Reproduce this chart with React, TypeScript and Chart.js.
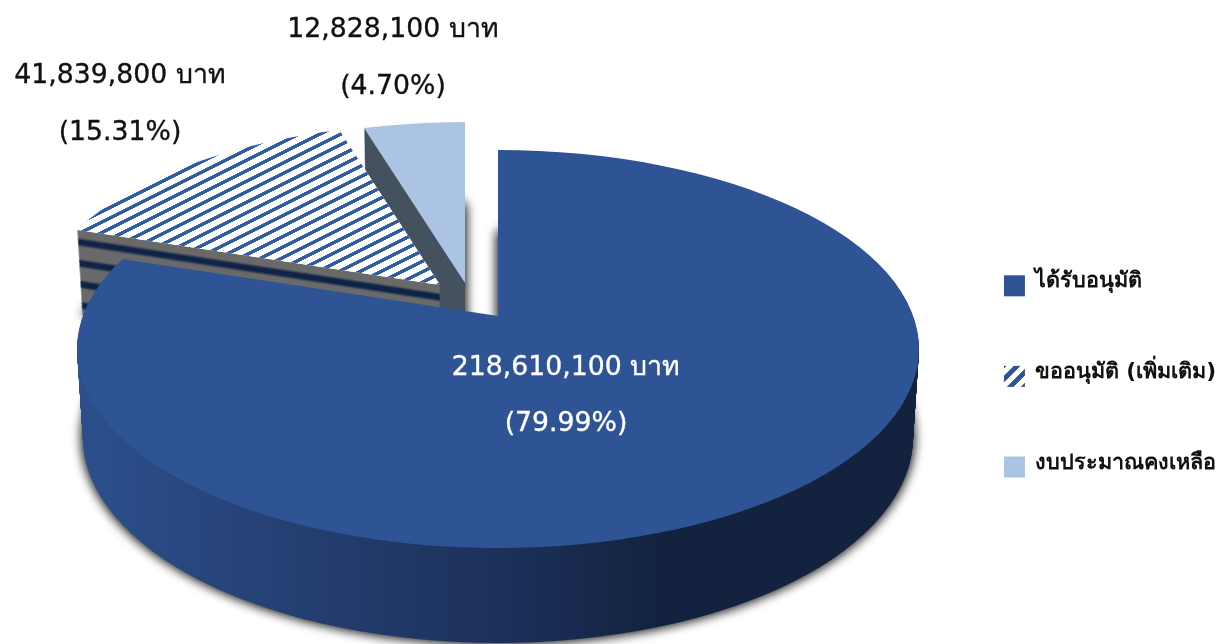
import React, { useEffect, useRef } from "react";
import { Chart, registerables } from "chart.js";

Chart.register(...registerables);

const categories = ["ได้รับอนุมัติ", "ขออนุมัติ (เพิ่มเติม)", "งบประมาณคงเหลือ"];
const budgetValues = [218610100, 41839800, 12828100];
const percentValues = [79.99, 15.31, 4.7];

const FONT = "'DejaVu Sans', 'Noto Sans', sans-serif";
const BLUE = "#2f5496";
const HATCH_BLUE = "#2f5c9f";
const LIGHT = "#abc4e4";
const LEGEND_SIZE = 21.6;

const discs = [
  { cx: 498, cy: 349, rx: 421, ry: 199 },
  { cx: 440, cy: 317, rx: 407, ry: 193 },
  { cx: 465, cy: 315, rx: 408, ry: 193 },
];
const labelPos = [
  [566, 368, 424, "#ffffff"],
  [120, 76, 133, "#111111"],
  [393, 30, 87, "#111111"],
] as const;

const K = -0.166;
const SQ = Math.sqrt(1 - K * K);
const DEPTH = 88;

type E = { cx: number; cy: number; rx: number; ry: number };
const layer = (d: E, t: number): E => ({
  cx: d.cx,
  cy: d.cy + DEPTH * t,
  rx: d.rx * (1 - 0.014 * t),
  ry: d.ry * (1 + 0.035 * t),
});
const rim = (e: E, th: number) => {
  const u = Math.sin(th);
  const v = -Math.cos(th);
  const den = 1 + K * v;
  return [e.cx + (e.rx * u * SQ) / den, e.cy + (e.ry * (v + K)) / den];
};
const wedge = (ctx: CanvasRenderingContext2D, e: E, a0: number, a1: number, grow: number) => {
  const ax = e.cx;
  const ay = e.cy + e.ry * K;
  ctx.beginPath();
  ctx.moveTo(ax, ay);
  const n = Math.max(8, Math.ceil((a1 - a0) / 0.02));
  for (let i = 0; i <= n; i++) {
    const p = rim(e, a0 + ((a1 - a0) * i) / n);
    ctx.lineTo(ax + (p[0] - ax) * grow, ay + (p[1] - ay) * grow);
  }
  ctx.closePath();
};

const mixHex = (a: number[], b: number[], m: number) =>
  `rgb(${a.map((v, i) => Math.round(v + (b[i] - v) * m)).join(",")})`;

const stripeColor = (px: number) => {
  const period = 22;
  let d = ((px - 13) % period + period) % period;
  if (d > period / 2) d = period - d;
  const m = d < 2 ? 1 : d < 5 ? (5 - d) / 3 : 0;
  return mixHex([106, 106, 106], [15, 36, 71], m);
};

const TILE_SCALE = 4;
const makeTile = (w: number, h: number, thick: number, color: string) => {
  const c = document.createElement("canvas");
  c.width = w * TILE_SCALE;
  c.height = h * TILE_SCALE;
  const x = c.getContext("2d")!;
  x.scale(TILE_SCALE, TILE_SCALE);
  x.fillStyle = "#ffffff";
  x.fillRect(0, 0, w, h);
  x.strokeStyle = color;
  x.lineWidth = thick;
  for (const o of [-h, 0, h]) {
    x.beginPath();
    x.moveTo(-w, h + o + h);
    x.lineTo(w * 2, o - h);
    x.stroke();
  }
  return c;
};

export default function App() {
  const ref = useRef<HTMLCanvasElement | null>(null);
  useEffect(() => {
    const canvas = ref.current!;
    const ctx0 = canvas.getContext("2d")!;
    const hatch = ctx0.createPattern(makeTile(21, 10.5, 3.5, HATCH_BLUE), "repeat")!;
    const legendHatch = ctx0.createPattern(makeTile(14, 14, 4.6, BLUE), "repeat")!;
    legendHatch.setTransform(new DOMMatrix().translate(1004, 365).scale(1 / TILE_SCALE));
    const topFills: any[] = [BLUE, hatch, LIGHT];

    const pie3d = {
      id: "pie3d",
      beforeDatasetsDraw(chart: any) {
        const ctx: CanvasRenderingContext2D = chart.ctx;
        const arcs = chart.getDatasetMeta(0).data as any[];
        const range = arcs.map((a) => [a.startAngle + Math.PI / 2, a.endAngle + Math.PI / 2]);

        const drawArc = (i: number, e: E, fill: any) => {
          const arc = arcs[i];
          const R = arc.outerRadius;
          const sx = e.rx / R;
          ctx.save();
          wedge(ctx, e, range[i][0], range[i][1], 1.12);
          ctx.clip();
          ctx.translate(e.cx, e.cy);
          ctx.scale(sx, e.ry / R);
          ctx.translate(-arc.x, -arc.y);
          let f = fill;
          if (fill === hatch) {
            hatch.setTransform(ctx.getTransform().inverse().scale(1 / TILE_SCALE));
          } else if (fill === "wallGradient") {
            const toUser = (x: number) => (x - e.cx) / sx + arc.x;
            f = ctx.createLinearGradient(toUser(80), 0, toUser(920), 0);
            f.addColorStop(0, "#2c4f8c");
            f.addColorStop(0.31, "#233c6d");
            f.addColorStop(0.52, "#1b2f58");
            f.addColorStop(0.69, "#13233f");
            f.addColorStop(1, "#13233f");
          }
          const saved = {
            s: arc.startAngle,
            en: arc.endAngle,
            c: arc.circumference,
            o: arc.options,
          };
          arc.startAngle = -Math.PI / 2;
          arc.endAngle = (3 * Math.PI) / 2;
          arc.circumference = Math.PI * 2;
          arc.options = { ...saved.o, backgroundColor: f, borderWidth: 0 };
          arc.draw(ctx);
          arc.startAngle = saved.s;
          arc.endAngle = saved.en;
          arc.circumference = saved.c;
          arc.options = saved.o;
          ctx.restore();
        };

        // soft shadows under the lowest layer of each slice
        [2, 1, 0].forEach((i) => {
          for (let pass = 0; pass < 2; pass++) {
            ctx.save();
            ctx.shadowColor = "rgba(0,0,0,0.7)";
            ctx.shadowBlur = 12;
            ctx.fillStyle = "#777777";
            wedge(ctx, layer(discs[i], 1), range[i][0], range[i][1], 1);
            ctx.fill();
            ctx.restore();
          }
        });

        const N = 90;
        const walls = (i: number, col: (t: number) => any) => {
          for (let s = N; s >= 1; s--) {
            const t = s / N;
            drawArc(i, layer(discs[i], t), col(t));
          }
        };
        walls(2, () => "#465260");
        drawArc(2, discs[2], topFills[2]);
        walls(1, (t) => stripeColor(t * DEPTH));
        drawArc(1, discs[1], "#ffffff");
        drawArc(1, discs[1], topFills[1]);
        walls(0, () => "wallGradient");
        drawArc(0, discs[0], topFills[0]);
        return false;
      },
      afterDraw(chart: any) {
        const ctx: CanvasRenderingContext2D = chart.ctx;
        ctx.save();
        ctx.font = `26.7px ${FONT}`;
        ctx.textAlign = "center";
        ctx.textBaseline = "middle";
        ctx.lineWidth = 0.35;
        budgetValues.forEach((v, i) => {
          const [x, y1, y2, color] = labelPos[i];
          ctx.fillStyle = color;
          ctx.strokeStyle = color;
          const a = `${v.toLocaleString("en-US")} บาท`;
          const b = `(${percentValues[i].toFixed(2)}%)`;
          ctx.fillText(a, x, y1);
          ctx.strokeText(a, x, y1);
          ctx.fillText(b, x, y2);
          ctx.strokeText(b, x, y2);
        });
        // legend text sits a little above the centre of its box
        ctx.font = `bold ${LEGEND_SIZE}px ${FONT}`;
        ctx.textAlign = "left";
        ctx.fillStyle = "#111111";
        const boxes = chart.legend.legendHitBoxes as any[];
        categories.forEach((text, i) => {
          ctx.fillText(text, boxes[i].left + 21 + LEGEND_SIZE / 2 - 1, boxes[i].top + boxes[i].height / 2 - 4);
        });
        ctx.restore();
      },
    };

    const chart = new Chart(canvas, {
      type: "pie",
      data: {
        labels: categories,
        datasets: [{ data: budgetValues, backgroundColor: [BLUE, BLUE, LIGHT], borderWidth: 0 }],
      },
      plugins: [pie3d as any],
      options: {
        responsive: false,
        animation: false,
        events: [],
        layout: { padding: { top: 206, right: -7 } },
        plugins: {
          tooltip: { enabled: false },
          legend: {
            position: "right",
            align: "start",
            labels: {
              boxWidth: 21,
              boxHeight: 21,
              padding: 69,
              color: "rgba(0,0,0,0)",
              font: { family: FONT, size: LEGEND_SIZE, weight: "bold" },
              generateLabels: () =>
                categories.map((text, i) => ({
                  text,
                  fillStyle: [BLUE, legendHatch, LIGHT][i],
                  strokeStyle: "rgba(0,0,0,0)",
                  fontColor: "rgba(0,0,0,0)",
                  lineWidth: 0,
                  hidden: false,
                  index: i,
                })) as any,
            },
          },
        },
      } as any,
    });
    return () => chart.destroy();
  }, []);
  return (
    <div style={{ position: "fixed", left: 0, top: 0, width: 1220, height: 644, background: "#fff" }}>
      <canvas ref={ref} width={1220} height={644} style={{ display: "block", width: 1220, height: 644 }} />
    </div>
  );
}
